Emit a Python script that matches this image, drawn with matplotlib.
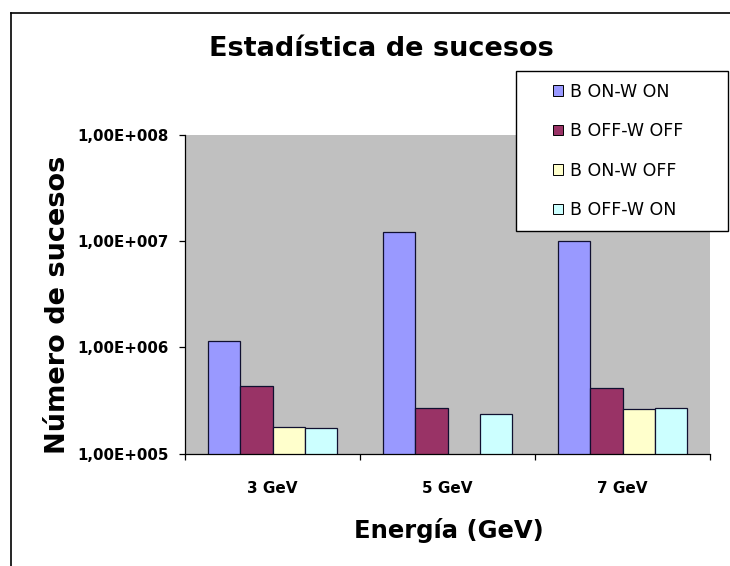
import numpy as np
import matplotlib
matplotlib.use("Agg")
import matplotlib.pyplot as plt
from matplotlib.patches import Rectangle
from matplotlib.lines import Line2D
from matplotlib.legend_handler import HandlerBase
from matplotlib.ticker import FixedLocator, FuncFormatter, NullLocator

# ---- data -------------------------------------------------------------
categories = ["3 GeV", "5 GeV", "7 GeV"]
series_names = ["B ON-W ON", "B OFF-W OFF", "B ON-W OFF", "B OFF-W ON"]
b_on_w_on = [1.15e6, 1.22e7, 1.0e7]
b_off_w_off = [4.35e5, 2.71e5, 4.16e5]
b_on_w_off = [1.76e5, np.nan, 2.63e5]   # no run at 5 GeV
b_off_w_on = [1.72e5, 2.33e5, 2.69e5]
y_ticks = [1e5, 1e6, 1e7, 1e8]

series_values = [b_on_w_on, b_off_w_off, b_on_w_off, b_off_w_on]
colors = ["#9999FF", "#993366", "#FFFFCC", "#CCFFFF"]

W, H = 730, 566
fig = plt.figure(figsize=(W / 100, H / 100), dpi=100, facecolor="white")

# plot area in pixel coordinates
left, right, top, bottom = 185, 710, 135, 453.5
ax = fig.add_axes([left / W, 1 - bottom / H, (right - left) / W, (bottom - top) / H])
ax.set_facecolor("#c0c0c0")

bold = dict(family="DejaVu Sans", weight="bold")

x = np.arange(len(categories))
bar_w = 0.183
bars = []
for i, (vals, col) in enumerate(zip(series_values, colors)):
    b = ax.bar(x + (i - 1.5) * bar_w, vals, width=bar_w, color=col,
               edgecolor="#101030", linewidth=0.9, log=True, label=series_names[i])
    bars.append(b)

ax.set_yscale("log")
ax.set_ylim(y_ticks[0], y_ticks[-1])
ax.set_xlim(-0.5, len(categories) - 0.5)

ax.yaxis.set_major_locator(FixedLocator(y_ticks))
ax.yaxis.set_minor_locator(NullLocator())
ax.yaxis.set_major_formatter(
    FuncFormatter(lambda v, p: "1,00E+%03d" % int(round(np.log10(v)))))
ax.tick_params(axis="y", which="major", direction="out", length=4, width=0.9,
               pad=8, labelsize=10.8, color="black")
for lab in ax.get_yticklabels():
    lab.set_fontproperties(matplotlib.font_manager.FontProperties(**bold, size=10.8))

ax.set_xticks(x)
ax.set_xticklabels(categories, fontsize=11, **bold)
ax.set_xticks(np.arange(-0.5, len(categories), 1.0), minor=True)
ax.tick_params(axis="x", which="major", length=0, pad=20)
ax.tick_params(axis="x", which="minor", direction="out", length=4, width=0.9)

for side in ("top", "right"):
    ax.spines[side].set_visible(False)
for side in ("left", "bottom"):
    ax.spines[side].set_color("black")
    ax.spines[side].set_linewidth(0.9)

ax.set_xlabel("Energía (GeV)", fontsize=17.5, **bold)
ax.xaxis.set_label_coords((449 - left) / (right - left), (bottom - 538) / (bottom - top))
ax.xaxis.label.set_va("baseline")

ax.set_ylabel("Número de sucesos", fontsize=19.5, **bold)
ax.yaxis.set_label_coords((58 - left) / (right - left), (bottom - 305) / (bottom - top))
ax.yaxis.label.set_va("center")

fig.text(381 / W, 1 - 55.7 / H, "Estadística de sucesos", ha="center",
         va="baseline", fontsize=19.5, **bold)


class SquareAtRight(HandlerBase):
    """Small square legend key placed at the right end of the handle box."""

    def create_artists(self, legend, orig_handle, xdescent, ydescent,
                       width, height, fontsize, trans):
        s = 7.6
        p = Rectangle((-xdescent + width - s, -ydescent + (height - s) / 2), s, s,
                      facecolor=orig_handle.get_facecolor(), edgecolor="black",
                      linewidth=0.7, transform=trans)
        return [p]


handles = [b.patches[0] for b in bars]
leg = ax.legend(handles, series_names, loc="upper left",
                bbox_to_anchor=(516 / W, 1 - 230 / H, 212 / W, 159 / H),
                bbox_transform=fig.transFigure, mode="expand", borderaxespad=0,
                prop=dict(family="DejaVu Sans", size=12.5),
                handler_map={Rectangle: SquareAtRight()},
                handlelength=2.05, handleheight=0.7, handletextpad=0.38,
                labelspacing=1.23, borderpad=0.68, fancybox=False, framealpha=1)
leg.get_frame().set_edgecolor("black")
leg.get_frame().set_linewidth(1.0)
leg.get_frame().set_facecolor("white")

# chart area border (top and left edges)
fig.add_artist(Line2D([11 / W, 11 / W], [0, 1 - 13 / H], transform=fig.transFigure,
                      color="black", linewidth=1.2))
fig.add_artist(Line2D([11 / W, 1], [1 - 13 / H, 1 - 13 / H], transform=fig.transFigure,
                      color="black", linewidth=1.2))

fig.savefig("out.png", dpi=100, facecolor="white")
